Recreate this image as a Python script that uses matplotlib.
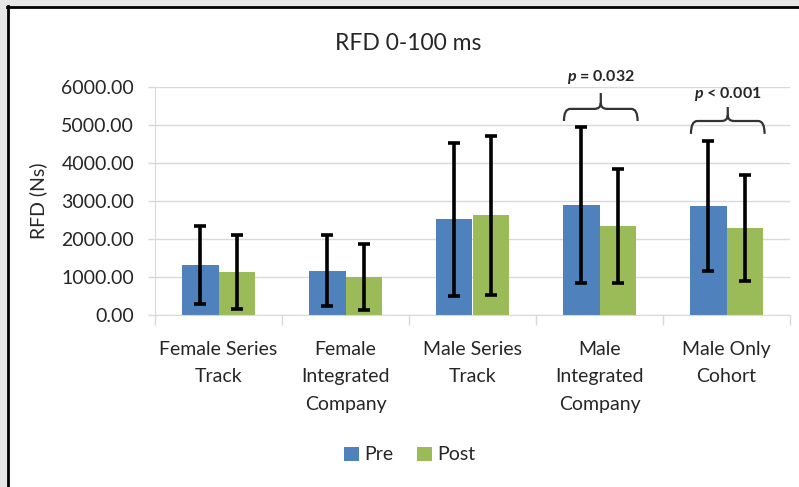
import matplotlib

matplotlib.use("Agg")
import matplotlib.pyplot as plt
import numpy as np
from matplotlib.lines import Line2D
from matplotlib.patches import PathPatch, Rectangle
from matplotlib.path import Path

plt.rcParams["font.family"] = ["Lato", "DejaVu Sans"]
plt.rcParams["mathtext.fontset"] = "custom"
plt.rcParams["mathtext.it"] = "Lato:italic:bold"
plt.rcParams["mathtext.rm"] = "Lato:bold"

categories = [
    "Female Series\nTrack",
    "Female\nIntegrated\nCompany",
    "Male Series\nTrack",
    "Male\nIntegrated\nCompany",
    "Male Only\nCohort",
]
pre_mean = [1310, 1160, 2520, 2900, 2860]
pre_sd = [1040, 935, 2020, 2060, 1710]
post_mean = [1120, 980, 2620, 2330, 2290]
post_sd = [970, 870, 2100, 1510, 1400]

# significance brackets: category, label, brace end / bar / tip heights, label height
sig_cat = [3, 4]
sig_text = ["$p$ = 0.032", "$p$ < 0.001"]
sig_end = [5110, 4770]
sig_bar = [5430, 5110]
sig_tip = [5850, 5480]
sig_label = [6275, 5825]

BLUE = "#4f81bd"
GREEN = "#9bbb59"
GRID = "#d9d9d9"
TEXT = "#262626"

fig = plt.figure(figsize=(7.99, 4.87), dpi=100)
# frame: light grey strip at top/left with a dark border line
fig.patches.append(Rectangle((0, 0), 1, 1, transform=fig.transFigure, color="#e6e6e6", zorder=-3))
fig.patches.append(Rectangle((8 / 799, 0), 1, (487 - 7) / 487, transform=fig.transFigure, color="white", zorder=-2))
fig.lines.append(Line2D([7 / 799, 1], [1 - 6.5 / 487] * 2, transform=fig.transFigure, color="black", lw=2))
fig.lines.append(Line2D([8 / 799] * 2, [0, 1 - 6 / 487], transform=fig.transFigure, color="black", lw=2))

ax = fig.add_axes([155 / 799, 1 - 314.5 / 487, 635 / 799, 227.2 / 487])

x = np.arange(len(categories))
w = 0.285
err_kw = dict(ecolor="black", elinewidth=2.6, capsize=4, capthick=2.6)
ax.bar(x - w / 2, pre_mean, w, color=BLUE, label="Pre", yerr=pre_sd, error_kw=err_kw, zorder=2)
ax.bar(x + w / 2, post_mean, w, color=GREEN, label="Post", yerr=post_sd, error_kw=err_kw, zorder=2)

ax.set_xlim(-0.5, len(categories) - 0.5)
ax.set_ylim(0, 6000)
ax.set_yticks(np.arange(0, 6001, 1000))
ax.yaxis.set_major_formatter(matplotlib.ticker.FuncFormatter(lambda v, _: f"{v:.2f}"))
ax.grid(True, axis="y", color=GRID, lw=1, zorder=0)
ax.set_axisbelow(True)

ax.set_xticks(x, labels=categories, fontsize=14, color=TEXT, linespacing=1.75)
ax.set_xticks(np.arange(-0.5, len(categories), 1), minor=True)
ax.tick_params(axis="x", which="major", length=0, pad=19)
ax.tick_params(axis="x", which="minor", length=7, color=GRID, width=1)
ax.tick_params(axis="y", length=5, color=GRID, width=1, pad=10, labelsize=14, labelcolor=TEXT)

for side in ["top", "right"]:
    ax.spines[side].set_visible(False)
for side in ["left", "bottom"]:
    ax.spines[side].set_color(GRID)

ax.set_ylabel("RFD (Ns)", fontsize=14, color=TEXT, labelpad=10)
fig.text(408 / 799, 1 - 43 / 487, "RFD 0-100 ms", ha="center", va="center", fontsize=16.5, color=TEXT)


def brace(xc, half, y_end, y_bar, y_tip, rx=0.05, ry=160):
    verts = [
        (xc - half, y_end), (xc - half, y_bar), (xc - half + rx, y_bar),
        (xc - rx, y_bar), (xc, y_bar), (xc, y_bar + ry),
        (xc, y_tip),
        (xc, y_bar + ry), (xc, y_bar), (xc + rx, y_bar),
        (xc + half - rx, y_bar), (xc + half, y_bar), (xc + half, y_end),
    ]
    codes = [
        Path.MOVETO, Path.CURVE3, Path.CURVE3,
        Path.LINETO, Path.CURVE3, Path.CURVE3,
        Path.LINETO,
        Path.MOVETO, Path.CURVE3, Path.CURVE3,
        Path.LINETO, Path.CURVE3, Path.CURVE3,
    ]
    ax.add_patch(PathPatch(Path(verts, codes), fill=False, edgecolor="#333333", lw=1.6, clip_on=False))


for c, t, ye, yb, yt, yl in zip(sig_cat, sig_text, sig_end, sig_bar, sig_tip, sig_label):
    brace(c + 0.01, 0.29, ye, yb, yt)
    ax.text(c + 0.01, yl, t, ha="center", va="center", fontsize=11.5, fontweight="bold",
            color=TEXT, clip_on=False)

ax.legend(loc="center", bbox_to_anchor=(410 / 799, 1 - 455 / 487), bbox_transform=fig.transFigure,
          ncol=2, frameon=False, fontsize=14, handlelength=0.75, handleheight=0.75,
          handletextpad=0.3, columnspacing=1.2, labelcolor=TEXT)

fig.savefig("out.png", dpi=100)
plt.close(fig)
